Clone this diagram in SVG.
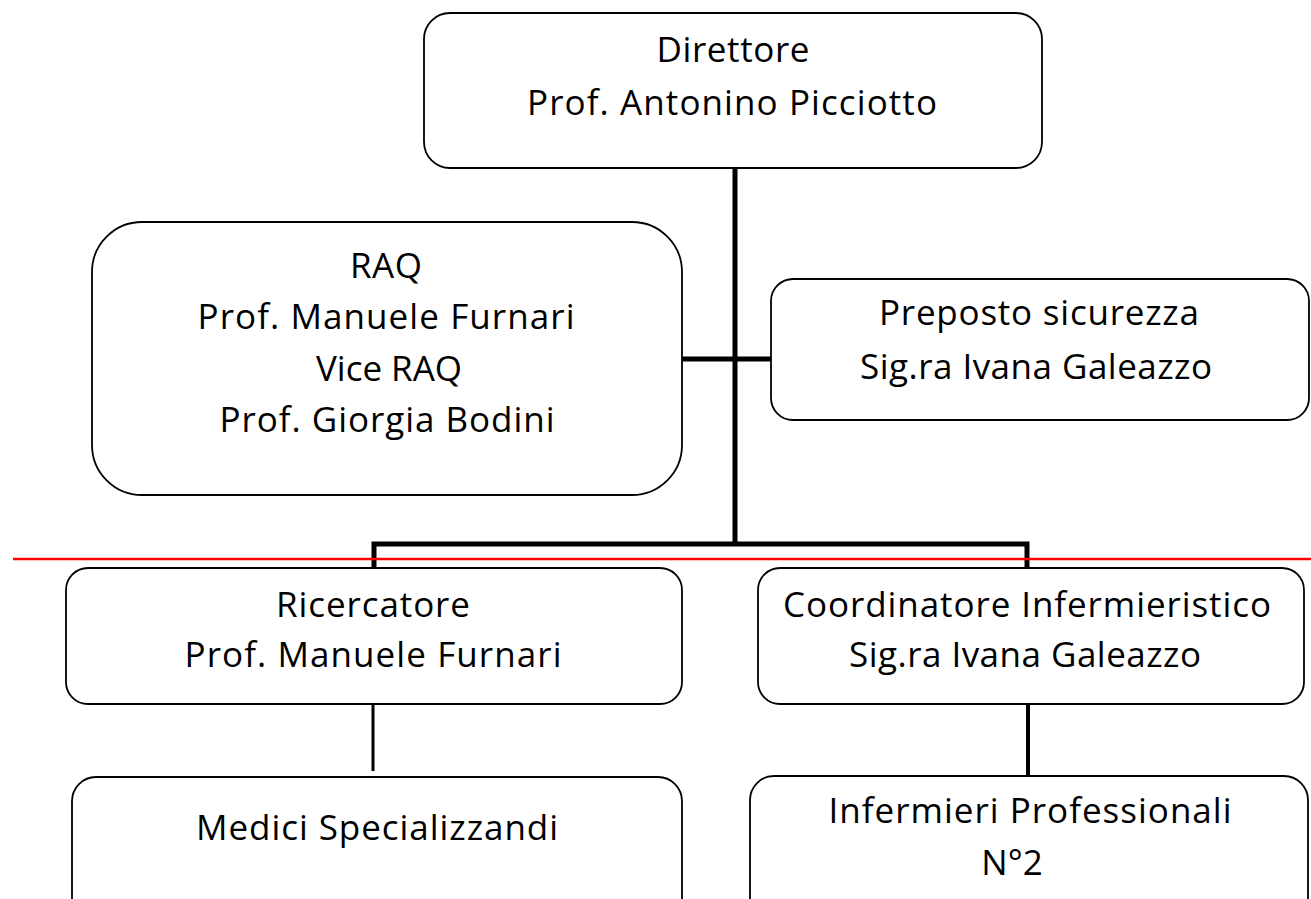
<svg xmlns="http://www.w3.org/2000/svg" width="1311" height="899" viewBox="0 0 1311 899">
<style>
.box{fill:#fff;stroke:#000;stroke-width:1.8}
.t{font-family:"Open Sans","Noto Sans",sans-serif;font-size:35px;fill:#000;text-anchor:middle}
.c{stroke:#000;fill:none}
</style>
<rect width="1311" height="899" fill="#fff"/>
<g id="connectors">
<line class="c" x1="735" y1="168" x2="735" y2="545" stroke-width="5"/>
<line class="c" x1="682" y1="359" x2="771" y2="359" stroke-width="5"/>
<polyline class="c" points="374,570 374,544 1027,544 1027,570" stroke-width="5"/>
<line class="c" x1="373" y1="704" x2="373" y2="771" stroke-width="3"/>
<line class="c" x1="1028" y1="704" x2="1028" y2="776" stroke-width="4"/>
</g>
<g id="n-direttore">
<rect class="box" x="424" y="13" width="618" height="155" rx="26"/>
<text class="t" x="733" y="62" textLength="153">Direttore</text>
<text class="t" x="732" y="115" textLength="410">Prof. Antonino Picciotto</text>
</g>
<g id="n-raq">
<rect class="box" x="92" y="222" width="590" height="273" rx="50"/>
<text class="t" x="386" y="278" textLength="72">RAQ</text>
<text class="t" x="386" y="329" textLength="377">Prof. Manuele Furnari</text>
<text class="t" x="389" y="381" textLength="146">Vice RAQ</text>
<text class="t" x="387" y="432" textLength="335">Prof. Giorgia Bodini</text>
</g>
<g id="n-preposto">
<rect class="box" x="771" y="279" width="538" height="141" rx="22"/>
<text class="t" x="1039" y="325" textLength="320">Preposto sicurezza</text>
<text class="t" x="1036" y="379" textLength="352">Sig.ra Ivana Galeazzo</text>
</g>
<g id="n-ricercatore">
<rect class="box" x="66" y="568" width="616" height="136" rx="22"/>
<text class="t" x="373" y="617" textLength="194">Ricercatore</text>
<text class="t" x="373" y="667" textLength="377">Prof. Manuele Furnari</text>
</g>
<g id="n-coordinatore">
<rect class="box" x="758" y="568" width="546" height="136" rx="22"/>
<text class="t" x="1027" y="617" textLength="488">Coordinatore Infermieristico</text>
<text class="t" x="1025" y="667" textLength="352">Sig.ra Ivana Galeazzo</text>
</g>
<g id="n-medici">
<rect class="box" x="72" y="777" width="610" height="150" rx="24"/>
<text class="t" x="377" y="840" textLength="362">Medici Specializzandi</text>
</g>
<g id="n-infermieri">
<rect class="box" x="750" y="776" width="558" height="150" rx="24"/>
<text class="t" x="1030" y="823" textLength="403">Infermieri Professionali</text>
<text class="t" x="1012" y="875">N°2</text>
</g>
<line x1="13" y1="559" x2="1311" y2="559" stroke="#ff0000" stroke-width="2.5"/>
</svg>
